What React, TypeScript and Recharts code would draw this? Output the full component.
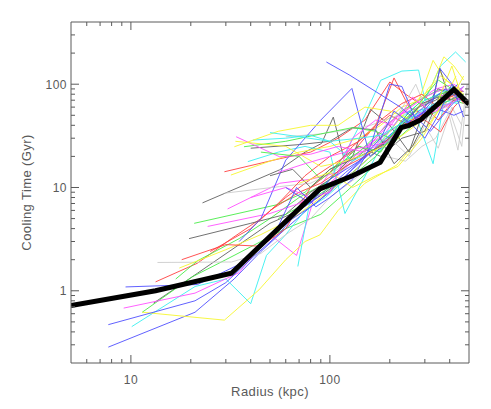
import React from "react";
import { LineChart, Line, XAxis, YAxis } from "recharts";

// radius (kpc), cooling time (Gyr) pairs for each cluster profile
const blue1 = [[7.7, 0.285], [21, 0.62], [33, 1.3], [45, 2.4], [60, 4.0], [80, 6.5], [100, 9], [130, 15], [170, 24], [230, 40], [300, 55], [400, 75], [470, 95]];
const blue2 = [[7.7, 0.47], [21, 0.8], [30, 1.2], [42, 2.2], [55, 3.5], [70, 6], [90, 8.5], [120, 14], [160, 22], [210, 35], [280, 50], [360, 70], [440, 100]];
const blue3 = [[9.4, 1.09], [21.6, 1.15], [35, 1.8], [50, 3.5], [65, 5], [85, 7], [110, 11], [150, 20], [200, 30], [260, 45], [330, 60], [420, 50], [470, 55]];
const blue4 = [[35, 3], [45, 5], [60, 18.4], [90, 45], [129, 91], [159, 20], [200, 28], [250, 55], [320, 35], [400, 60], [460, 80]];
const blue5 = [[96, 164], [126, 122], [226, 60], [260, 48], [310, 65], [380, 90], [450, 70]];
const blue6 = [[40, 2.2], [55, 4.2], [68, 10], [85, 6.5], [100, 8], [130, 12], [160, 25], [200, 100], [230, 95], [270, 45], [330, 70], [357, 142], [430, 90]];
const blue7 = [[60, 10], [80, 7], [100, 12], [140, 18], [180, 30], [210, 55], [260, 40], [300, 30], [350, 50], [410, 100], [470, 48]];

const red1 = [[13.3, 1.22], [21.6, 1.85], [32, 3.2], [45, 5], [60, 8], [80, 12], [100, 16], [130, 22], [170, 40], [210, 115], [250, 60], [300, 50], [380, 80], [460, 70]];
const red2 = [[29.5, 14.2], [56, 19], [80, 22], [110, 30], [150, 45], [200, 105], [240, 80], [300, 60], [350, 45], [420, 70], [470, 80]];
const red3 = [[18, 2.0], [30, 2.8], [45, 2.7], [60, 4], [80, 10], [100, 14], [130, 25], [160, 35], [200, 50], [250, 40], [300, 45], [360, 34.5], [420, 60], [470, 75]];
const red4 = [[25, 2.4], [40, 4], [55, 7], [75, 13], [100, 20], [140, 28], [180, 45], [230, 65], [290, 80], [350, 60], [420, 90], [470, 65]];
const red5 = [[50, 6], [70, 9], [90, 11], [120, 16], [150, 20], [200, 30], [260, 45], [320, 55], [400, 75], [460, 85]];

const green1 = [[11.4, 0.62], [20.4, 1.37], [30, 2], [45, 3], [60, 4], [90, 5.5], [120, 9], [160, 15], [220, 30], [280, 45], [350, 55], [420, 70], [470, 65]];
const green2 = [[16.8, 1.3], [21.6, 1.95], [35, 3.2], [50, 5], [70, 8], [95, 11], [130, 18], [170, 28], [220, 40], [280, 60], [340, 75], [410, 80], [470, 70]];
const green3 = [[20.8, 4.5], [54, 6.8], [75, 9], [100, 15], [140, 22], [180, 35], [230, 55], [280, 70], [340, 85], [400, 90], [460, 75]];
const green4 = [[37, 24.8], [60, 28], [90, 33], [130, 38], [170, 35], [200, 30], [250, 50], [300, 70], [360, 80], [420, 90], [470, 70]];
const green5 = [[45, 22], [70, 20], [90, 12], [110, 16], [140, 25], [180, 22], [230, 45], [290, 70], [350, 110], [410, 90]];
const green6 = [[55, 5], [75, 7], [100, 10], [130, 13], [170, 20], [220, 35], [280, 45], [340, 60], [400, 70], [470, 80]];

const cyan1 = [[10.1, 0.45], [21, 1.1], [30, 1.3], [40, 0.75], [48, 2.2], [60, 3.5], [75, 6], [95, 8], [120, 12], [160, 20], [210, 35], [270, 50], [330, 17], [380, 80], [440, 100]];
const cyan2 = [[69, 1.72], [80, 8], [100, 12], [120, 22], [150, 50], [180, 109], [230, 134], [279, 137], [300, 70], [360, 150], [428, 205], [481, 164]];
const cyan3 = [[38.7, 17.8], [55, 22], [75, 25], [100, 22], [119, 5.6], [140, 10], [170, 20], [220, 40], [270, 55], [330, 60], [400, 65], [460, 70]];
const cyan4 = [[41, 28.8], [60, 30], [80, 32], [100, 28], [130, 18], [170, 24], [220, 45], [280, 65], [350, 80], [420, 95]];
const cyan5 = [[50, 34], [70, 31], [100, 28], [140, 30], [180, 32], [230, 42], [290, 55], [360, 70], [440, 65]];

const magenta1 = [[9.2, 0.68], [21, 0.95], [35, 1.5], [50, 3.5], [68, 2.2], [85, 9], [100, 14], [130, 20], [170, 25], [220, 50], [280, 70], [340, 90], [420, 100], [470, 85]];
const magenta2 = [[30.6, 6.2], [56, 11], [80, 12], [110, 14], [150, 25], [200, 35], [260, 50], [320, 55], [400, 70], [460, 80]];
const magenta3 = [[24.3, 4.2], [50, 5.6], [70, 7], [95, 10], [130, 18], [170, 30], [220, 50], [280, 60], [350, 80], [420, 70]];
const magenta4 = [[33.8, 31], [56, 19.8], [80, 21], [110, 25], [150, 22], [190, 40], [240, 55], [300, 75], [370, 90], [440, 85]];
const magenta5 = [[40, 8], [60, 10], [80, 8], [100, 9], [130, 30], [170, 45], [210, 40], [260, 75], [320, 55], [400, 65], [470, 95]];
const magenta6 = [[55, 14], [75, 17], [100, 20], [140, 24], [190, 27], [240, 40], [300, 50], [380, 60], [460, 75]];

const yellow1 = [[11.4, 0.62], [29.5, 0.52], [44, 1.02], [60, 2], [75, 3], [89, 3.47], [110, 6], [150, 11], [217, 16.5], [280, 30], [350, 55], [420, 80], [470, 120]];
const yellow2 = [[17.5, 1.66], [30, 2.5], [45, 3.5], [65, 5], [90, 8], [120, 12], [160, 20], [200, 35], [250, 60], [320, 90], [374, 184], [420, 150], [470, 110]];
const yellow3 = [[31.8, 13.2], [50, 18], [70, 22], [100, 25], [140, 30], [180, 40], [230, 60], [280, 70], [330, 170], [380, 110], [440, 90]];
const yellow4 = [[33.1, 24.8], [55, 35], [80, 40], [110, 40], [150, 60], [200, 55], [260, 45], [310, 90], [360, 120], [410, 100], [470, 80]];
const yellow5 = [[33.5, 28], [60, 25], [90, 16], [120, 18], [160, 22], [210, 28], [270, 40], [340, 60], [410, 150], [460, 75]];
const yellow6 = [[70, 11], [100, 14], [130, 10], [170, 13], [220, 16], [290, 30], [360, 60], [430, 120]];

const dark1 = [[13, 0.76], [21.6, 1.48], [35, 2.8], [50, 4.5], [70, 6], [95, 9], [130, 14], [170, 22], [220, 35], [280, 60], [340, 70], [410, 90], [470, 85]];
const dark2 = [[22.9, 7.1], [55.8, 14.8], [75, 22], [90.8, 26.7], [104, 48], [117, 19.9], [140, 25], [180, 20], [230, 30], [300, 35], [360, 80], [430, 90]];
const dark3 = [[19.6, 3.2], [40, 4.5], [60, 5.5], [80, 9], [100, 12], [130, 20], [160, 57], [200, 40], [250, 22], [300, 60], [350, 90], [420, 80], [470, 75]];
const dark4 = [[40, 24], [70, 26], [100, 28], [130, 38], [170, 36], [210, 17], [260, 25], [320, 55], [357, 142], [400, 70], [460, 80]];
const dark5 = [[50, 13], [65, 15], [80, 10], [100, 15], [140, 20], [180, 25], [230, 40], [290, 65], [350, 75], [420, 70]];

const grey1 = [[13.6, 1.88], [32, 1.9], [45, 2.3], [60, 3.5], [80, 5], [100, 8], [140, 13], [190, 20], [240, 18], [290, 25], [340, 30], [400, 55], [460, 25], [490, 100]];
const grey2 = [[29.5, 8.8], [55.8, 10.2], [80, 11], [110, 15], [150, 25], [200, 30], [250, 20], [300, 40], [350, 24], [410, 60], [460, 40]];
const grey3 = [[60, 31], [90, 33], [120, 36], [160, 40], [220, 50], [270, 100], [320, 45], [380, 70], [440, 23], [490, 100]];

// median profile
const median = [[5, 0.72], [13.3, 1.0], [32, 1.48], [89, 9.7], [130, 13], [179, 17.5], [228, 38], [250, 40], [285, 45], [420, 89], [500, 64]];

const DARK = "#626262";
const RED = "#ff4040";
const GREEN = "#48ec48";
const BLUE = "#5050ff";
const CYAN = "#38f0f0";
const MAGENTA = "#ff50ff";
const YELLOW = "#f6f630";
const GREY = "#cccccc";

const profiles: [number[][], string][] = [
  [dark1, DARK], [red1, RED], [green1, GREEN], [blue1, BLUE], [cyan1, CYAN], [magenta1, MAGENTA], [yellow1, YELLOW], [grey1, GREY],
  [dark2, DARK], [red2, RED], [green2, GREEN], [blue2, BLUE], [cyan2, CYAN], [magenta2, MAGENTA], [yellow2, YELLOW], [grey2, GREY],
  [dark3, DARK], [red3, RED], [green3, GREEN], [blue3, BLUE], [cyan3, CYAN], [magenta3, MAGENTA], [yellow3, YELLOW], [grey3, GREY],
  [dark4, DARK], [red4, RED], [green4, GREEN], [blue4, BLUE], [cyan4, CYAN], [magenta4, MAGENTA], [yellow4, YELLOW],
  [dark5, DARK], [red5, RED], [green5, GREEN], [blue5, BLUE], [cyan5, CYAN], [magenta5, MAGENTA], [yellow5, YELLOW],
  [green6, GREEN], [blue6, BLUE], [magenta6, MAGENTA], [yellow6, YELLOW], [blue7, BLUE],
];

const radiusTicks = [6, 7, 8, 9, 10, 20, 30, 40, 50, 60, 70, 80, 90, 100, 200, 300, 400];
const timeTicks = [0.3, 0.4, 0.5, 0.6, 0.7, 0.8, 0.9, 1, 2, 3, 4, 5, 6, 7, 8, 9, 10, 20, 30, 40, 50, 60, 70, 80, 90, 100, 200, 300];

const AXIS = "#5a5a5a";
const FONT = "'Liberation Sans', Arial, sans-serif";

const isMajor = (v: number) => Math.abs(Math.log10(v) - Math.round(Math.log10(v))) < 1e-6;

// IDL style: ticks point into the plot box
const BottomTick = ({ x, y, payload }: any) => {
  const major = isMajor(payload.value);
  return (
    <g>
      <line x1={x} x2={x} y1={y} y2={y - (major ? 8 : 4)} stroke={AXIS} />
      {major && (
        <text x={x} y={y + 21} textAnchor="middle" fontSize={12} fontFamily={FONT} fill={AXIS} letterSpacing={0.5}>
          {payload.value}
        </text>
      )}
    </g>
  );
};

const TopTick = ({ x, y, payload }: any) => {
  const major = isMajor(payload.value);
  return <line x1={x} x2={x} y1={y} y2={y + (major ? 8 : 4)} stroke={AXIS} />;
};

const LeftTick = ({ x, y, payload }: any) => {
  const major = isMajor(payload.value);
  return (
    <g>
      <line x1={x} x2={x + (major ? 8 : 4)} y1={y} y2={y} stroke={AXIS} />
      {major && (
        <text x={x - 4} y={y + 4.5} textAnchor="end" fontSize={12} fontFamily={FONT} fill={AXIS} letterSpacing={0.5}>
          {payload.value}
        </text>
      )}
    </g>
  );
};

const RightTick = ({ x, y, payload }: any) => {
  const major = isMajor(payload.value);
  return <line x1={x} x2={x - (major ? 8 : 4)} y1={y} y2={y} stroke={AXIS} />;
};

const toPoints = (s: number[][]) => s.map(([r, t]) => ({ r, t }));

export default function App() {
  return (
    <div style={{ position: "absolute", left: 0, top: 0, background: "#fff" }}>
      <LineChart width={491} height={409} margin={{ top: 0, right: 0, bottom: 0, left: 0 }}>
        <XAxis
          xAxisId={0}
          dataKey="r"
          type="number"
          scale="log"
          domain={[5, 500]}
          allowDataOverflow
          ticks={radiusTicks}
          interval={0}
          tickSize={0}
          tickMargin={0}
          tick={<BottomTick />}
          height={46}
          axisLine={{ stroke: AXIS }}
          label={{ value: "Radius (kpc)", position: "insideBottom", offset: 13, fill: AXIS, fontSize: 13, fontFamily: FONT, letterSpacing: 0.4 }}
        />
        <XAxis
          xAxisId="top"
          orientation="top"
          dataKey="r"
          type="number"
          scale="log"
          domain={[5, 500]}
          allowDataOverflow
          ticks={radiusTicks}
          interval={0}
          tickSize={0}
          tickMargin={0}
          tick={<TopTick />}
          height={22}
          axisLine={{ stroke: AXIS }}
        />
        <YAxis
          yAxisId={0}
          type="number"
          scale="log"
          domain={[0.2, 400]}
          allowDataOverflow
          ticks={timeTicks}
          interval={0}
          tickSize={0}
          tickMargin={0}
          tick={<LeftTick />}
          width={71}
          axisLine={{ stroke: AXIS }}
          label={{ value: "Cooling Time (Gyr)", angle: -90, position: "insideLeft", offset: 26, fill: AXIS, fontSize: 13, fontFamily: FONT, letterSpacing: 0.4, style: { textAnchor: "middle" } }}
        />
        <YAxis
          yAxisId="right"
          orientation="right"
          type="number"
          scale="log"
          domain={[0.2, 400]}
          allowDataOverflow
          ticks={timeTicks}
          interval={0}
          tickSize={0}
          tickMargin={0}
          tick={<RightTick />}
          width={22}
          axisLine={{ stroke: AXIS }}
        />
        {profiles.map(([s, color], i) => (
          <Line
            key={i}
            data={toPoints(s)}
            dataKey="t"
            xAxisId={0}
            yAxisId={0}
            stroke={color}
            strokeWidth={1}
            strokeOpacity={0.9}
            dot={false}
            activeDot={false}
            isAnimationActive={false}
          />
        ))}
        <Line
          data={toPoints(median)}
          dataKey="t"
          xAxisId={0}
          yAxisId={0}
          stroke="#000"
          strokeWidth={5}
          dot={false}
          activeDot={false}
          isAnimationActive={false}
        />
      </LineChart>
    </div>
  );
}
